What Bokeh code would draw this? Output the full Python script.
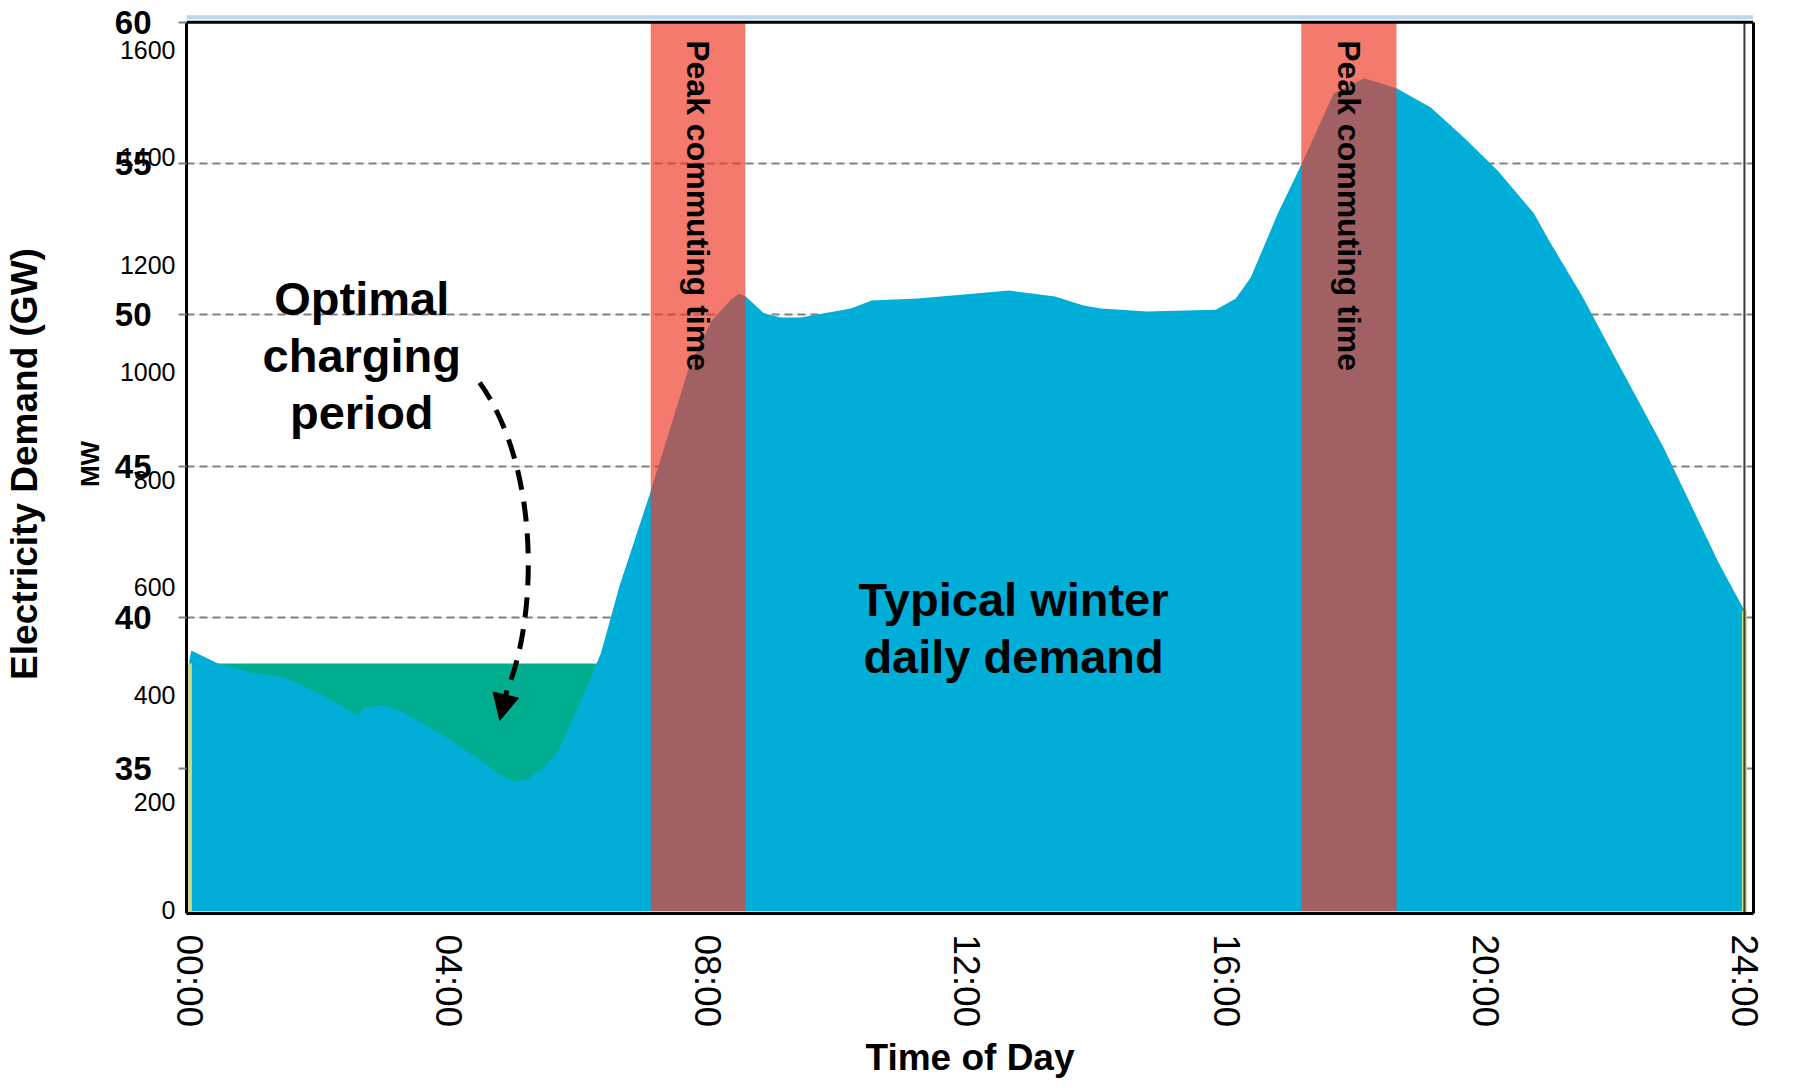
import math
from bokeh.plotting import figure
from bokeh.models import (Range1d, LinearAxis, FixedTicker, Grid, Span,
                          NormalHead, Arrow)
from bokeh.core.properties import value
from bokeh.embed import file_html
from bokeh.resources import INLINE

FONT = "Liberation Sans"

# ---------------- data ----------------
hours = [0.0, 0.03, 0.44, 0.95, 1.46, 1.98, 2.6, 2.7, 3.0, 3.31, 4.04, 4.56, 4.78, 5.02, 5.24,
         5.47, 5.69, 5.84, 6.09, 6.35, 6.64, 7.11, 7.71, 8.06, 8.36, 8.48, 8.57, 8.87, 9.13,
         9.43, 10.21, 10.53, 11.24, 12.0, 12.65, 13.36, 13.8, 14.07, 14.78, 15.84, 16.15,
         16.38, 16.8, 17.17, 17.66, 18.13, 18.63, 19.16, 19.67, 20.19, 20.75, 21.0, 21.5,
         22.0, 22.75, 23.6, 24.0]
demand_gw = [38.6, 38.91, 38.48, 38.18, 38.02, 37.52, 36.76, 37.03, 37.09, 36.86, 35.94, 35.18,
             34.81, 34.58, 34.68, 35.04, 35.6, 36.27, 37.49, 38.81, 41.06, 44.1, 48.26, 49.8,
             50.5, 50.69, 50.64, 50.04, 49.91, 49.91, 50.21, 50.47, 50.54, 50.68, 50.8, 50.6,
             50.31, 50.21, 50.11, 50.17, 50.54, 51.23, 53.35, 55.0, 57.31, 57.81, 57.48, 56.85,
             55.86, 54.77, 53.35, 52.4, 50.6, 48.6, 45.62, 41.82, 40.23]

charging_hours = [0.0, 6.3]
charging_level_gw = [38.48, 38.48]

peak_start = [7.12, 17.16]
peak_end = [8.58, 18.63]
peak_labels = ["Peak commuting time", "Peak commuting time"]
peak_label_top_gw = [59.07, 59.07]

gw_ticks = [35, 40, 45, 50, 55]
gw_top_label = "60"
mw_ticks = [0, 200, 400, 600, 800, 1000, 1200, 1400, 1600]
time_ticks = [0, 4, 8, 12, 16, 20, 24]
time_labels = ["00:00", "04:00", "08:00", "12:00", "16:00", "20:00", "24:00"]

note_charging = "Optimal\ncharging\nperiod"
note_charging_pos = (2.66, 48.66)
note_demand = "Typical winter\ndaily demand"
note_demand_pos = (12.72, 39.64)

# dashed arrow path (hour, GW): start, two control points, end, and tip
arrow_start = (4.48, 47.76)
arrow_c0 = (5.44, 44.86)
arrow_c1 = (5.36, 39.90)
arrow_end = (4.90, 37.59)
arrow_tip = (4.79, 36.60)

# ---------------- colours ----------------
BLUE = "#00AED8"
GREEN = "#00AE8F"
PEAK = "#EE3B28"
YELLOW = "#C9DC8A"
GRID = "#808080"
TOP_RULE = "#BDD7EE"

# ---------------- ranges ----------------
x_range = Range1d(-0.045, 24.14)
y_range = Range1d(30.22, 59.92)
mw_range = Range1d(-7.4, 1666.2)
y0 = y_range.start
plot_top = 59.66          # level of the drawn top border (GW)
top_rule_level = 59.83    # light rule above the border (GW)

p = figure(frame_width=1567, frame_height=899, x_range=x_range, y_range=y_range,
           y_axis_location=None, toolbar_location=None, output_backend="svg",
           min_border_left=178, min_border_right=36, min_border_top=14, min_border_bottom=167,
           background_fill_color="white", border_fill_color="white")
p.extra_y_ranges = {"mw": mw_range}

p.outline_line_color = None
p.xgrid.visible = False

# ---- left axes: GW (bold) innermost, MW overlapping, then the title ----
ax_gw = LinearAxis(ticker=FixedTicker(ticks=gw_ticks + [plot_top]),
                   bounds=(y0, plot_top + 0.001),
                   major_label_overrides={plot_top: gw_top_label},
                   major_label_text_font=FONT, major_label_text_font_size="33px",
                   major_label_text_font_style="bold", major_label_text_color="black",
                   major_label_standoff=27, major_tick_out=8, major_tick_in=0,
                   major_tick_line_color=GRID, major_tick_line_width=2,
                   minor_tick_out=0, minor_tick_in=0,
                   axis_line_color="black", axis_line_width=3)
p.add_layout(ax_gw, "left")

ax_mw = LinearAxis(y_range_name="mw", ticker=FixedTicker(ticks=mw_ticks),
                   major_label_text_font=FONT, major_label_text_font_size="25px",
                   major_label_text_color="black", major_label_standoff=-64,
                   major_tick_out=0, major_tick_in=0, minor_tick_out=0, minor_tick_in=0,
                   axis_line_color=None, axis_label="MW",
                   axis_label_text_font=FONT, axis_label_text_font_size="26px",
                   axis_label_text_font_style="bold", axis_label_text_color="black",
                   axis_label_standoff=12)
p.add_layout(ax_mw, "left")

ax_title = LinearAxis(ticker=FixedTicker(ticks=[]), major_label_standoff=0,
                      major_tick_out=0, major_tick_in=0, minor_tick_out=0, minor_tick_in=0,
                      axis_line_color=None, axis_label="Electricity Demand (GW)",
                      axis_label_text_font=FONT, axis_label_text_font_size="37px",
                      axis_label_text_font_style="bold", axis_label_text_color="black",
                      axis_label_standoff=27)
p.add_layout(ax_title, "left")

# right border as a bare axis line
ax_right = LinearAxis(ticker=FixedTicker(ticks=[]), bounds=(y0, plot_top + 0.001),
                      major_label_standoff=0, major_tick_out=0, major_tick_in=0,
                      minor_tick_out=0, minor_tick_in=0,
                      axis_line_color="black", axis_line_width=3)
p.add_layout(ax_right, "right")

# ---- bottom axis ----
xa = p.xaxis[0]
xa.ticker = FixedTicker(ticks=time_ticks)
xa.major_label_overrides = dict(zip(time_ticks, time_labels))
xa.major_label_orientation = "vertical"
xa.major_label_text_font = FONT
xa.major_label_text_font_size = "37px"
xa.major_label_text_color = "black"
xa.major_label_standoff = 21
xa.major_tick_out = 0
xa.major_tick_in = 0
xa.minor_tick_out = 0
xa.minor_tick_in = 0
xa.axis_line_color = "black"
xa.axis_line_width = 3
xa.axis_label = "Time of Day"
xa.axis_label_text_font = FONT
xa.axis_label_text_font_size = "37px"
xa.axis_label_text_font_style = "bold"
xa.axis_label_text_color = "black"
xa.axis_label_standoff = 7

# ---- dashed GW grid ----
p.add_layout(Grid(dimension=1, ticker=FixedTicker(ticks=gw_ticks), grid_line_color=GRID,
                  grid_line_width=2, grid_line_dash="8 5"))

# ---- areas ----
p.varea(x=charging_hours, y1=[y0, y0], y2=charging_level_gw, fill_color=GREEN)
p.varea(x=hours, y1=[y0] * len(hours), y2=demand_gw, fill_color=BLUE)

# ---- peak commuting bands ----
p.quad(left=peak_start, right=peak_end, bottom=[y0] * 2, top=[plot_top] * 2,
       fill_color=PEAK, fill_alpha=0.68, line_color=None)
peak_mid = [(s + e) / 2 for s, e in zip(peak_start, peak_end)]
p.text(x=peak_mid, y=peak_label_top_gw, text=peak_labels, angle=-math.pi / 2,
       text_align="left", text_baseline="middle", text_font=value(FONT),
       text_font_size="32px", text_font_style="bold", text_color="black")

# ---- outline strip along the demand area ----
p.line(x=[hours[0], hours[0], hours[-1], hours[-1]],
       y=[charging_level_gw[0], y0, y0, demand_gw[-1]],
       line_color=YELLOW, line_width=5)
p.segment(x0=[hours[-1]], y0=[y0], x1=[hours[-1]], y1=[plot_top],
          line_color="#3a3a3a", line_width=2)

# ---- top border and the light rule above it ----
p.add_layout(Span(location=plot_top, dimension="width", line_color="black", line_width=3))
p.add_layout(Span(location=top_rule_level, dimension="width", line_color=TOP_RULE,
                  line_width=4))

# ---- notes ----
p.text(x=[note_charging_pos[0]], y=[note_charging_pos[1]], text=[note_charging],
       text_align="center", text_baseline="middle", text_font=value(FONT),
       text_font_size="47px", text_font_style="bold", text_color="black",
       text_line_height=1.075)
p.text(x=[note_demand_pos[0]], y=[note_demand_pos[1]], text=[note_demand],
       text_align="center", text_baseline="middle", text_font=value(FONT),
       text_font_size="47px", text_font_style="bold", text_color="black",
       text_line_height=1.075)

p.bezier(x0=[arrow_start[0]], y0=[arrow_start[1]], x1=[arrow_end[0]], y1=[arrow_end[1]],
         cx0=[arrow_c0[0]], cy0=[arrow_c0[1]], cx1=[arrow_c1[0]], cy1=[arrow_c1[1]],
         line_color="black", line_width=5, line_dash="20 12")
p.add_layout(Arrow(end=NormalHead(size=26, fill_color="black", line_color="black"),
                   x_start=arrow_end[0], y_start=arrow_end[1],
                   x_end=arrow_tip[0], y_end=arrow_tip[1],
                   line_color="black", line_width=5))

open("out.html", "w").write(file_html(p, INLINE))
